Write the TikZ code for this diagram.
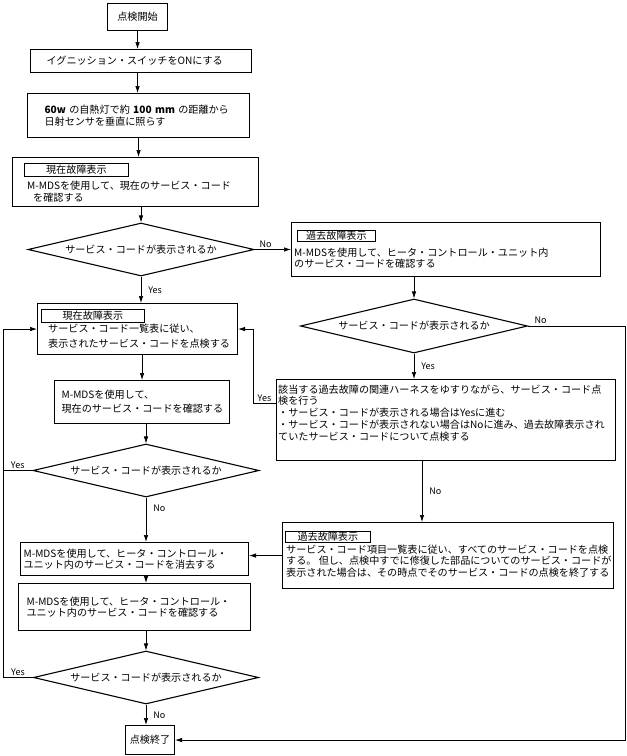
\documentclass[tikz,border=0pt]{standalone}
\usepackage{fontspec}
\setmainfont{Noto Sans CJK JP}
\usetikzlibrary{shapes.geometric,arrows.meta}
\begin{document}
\begin{tikzpicture}[x=1pt,y=-1pt,
  font=\fontsize{10.1}{11.5}\selectfont,
  box/.style={draw,line width=1.1pt,inner sep=0pt,anchor=north west},
  ttl/.style={draw,line width=0.7pt,inner sep=0pt,anchor=north west},
  txt/.style={inner sep=0pt,align=left,anchor=west},
  ask/.style={draw,diamond,aspect=4.26,line width=1.1pt,inner sep=0pt,minimum width=226,minimum height=53},
  arr/.style={line width=0.7pt,-{Latex[length=7pt,width=4.5pt]}},
  lnk/.style={line width=0.7pt},
  lbl/.style={font=\fontsize{9}{10}\selectfont,inner sep=2pt}]
\useasboundingbox (0,0) rectangle (627,756);
\coordinate (lft) at (3,0);
\coordinate (rgt) at (625,0);
\coordinate (nx) at (422,0);
%left column
\node[box,minimum width=60,minimum height=27] (start) at (107,3) {点検開始};
\node[box,minimum width=221,minimum height=23,text width=189,inner xsep=16,align=left] (ign) at (30,49) {イグニッション・スイッチをONにする};
\node[box,minimum width=222,minimum height=44,text width=188,inner xsep=17,align=left] (sun) at (27,93) {\textbf{60w}~の自熱灯で約~\textbf{100~mm}~の距離から\\日射センサを垂直に照らす};
\node[box,minimum width=246,minimum height=49] (cur) at (12,157) {};
\node[ttl,minimum width=104,minimum height=13] (cur-h) at (24,163) {現在故障表示};
\node[txt] (cur-t) at (27,191.5) {M-MDSを使用して、現在のサービス・コード\\\hspace*{6pt}を確認する};
\node[ask] (d1) at (141,249.5) {サービス・コードが表示されるか};
\node[box,minimum width=200,minimum height=51] (cause) at (37,303) {};
\node[ttl,minimum width=103,minimum height=13] (cause-h) at (41,309) {現在故障表示};
\node[txt] (cause-t) at (48,336) {サービス・コード一覧表に従い、\\[3.5pt]表示されたサービス・コードを点検する};
\node[box,minimum width=175,minimum height=43,text width=161,inner xsep=7,align=left] (mmds) at (54,380) {M-MDSを使用して、\\[2.5pt]現在のサービス・コードを確認する};
\node[ask] (d3) at (146,470.5) {サービス・コードが表示されるか};
\node[box,minimum width=228,minimum height=33,text width=222,inner xsep=3,align=left] (erase) at (20,542) {M-MDSを使用して、ヒータ・コントロール・\\ユニット内のサービス・コードを消去する};
\node[box,minimum width=232,minimum height=47,text width=216,inner xsep=8,align=left] (confirm) at (18,583) {M-MDSを使用して、ヒータ・コントロール・\\ユニット内のサービス・コードを確認する};
\node[ask,minimum width=225] (d4) at (146,677.5) {サービス・コードが表示されるか};
\node[box,minimum width=49,minimum height=29] (end) at (125,725) {点検終了};
%right column
\node[box,minimum width=309,minimum height=54] (past) at (291,222) {};
\node[ttl,minimum width=78,minimum height=11] (past-h) at (297,230) {過去故障表示};
\node[txt] (past-t) at (294,258) {M-MDSを使用して、ヒータ・コントロール・ユニット内\\のサービス・コードを確認する};
\node[ask,minimum width=227,minimum height=54] (d2) at (414,326) {サービス・コードが表示されるか};
\node[box,minimum width=339,minimum height=81] (shake) at (276,379) {};
\node[txt] (shake-t) at (278,413) {該当する過去故障の関連ハーネスをゆすりながら、サービス・コード点\\検を行う\\・サービス・コードが表示される場合はYesに進む\\[1pt]・サービス・コードが表示されない場合はNoに進み、過去故障表示され\\ていたサービス・コードについて点検する};
\node[box,minimum width=331,minimum height=66] (allpast) at (282,522) {};
\node[ttl,minimum width=85,minimum height=11] (allpast-h) at (285,531) {過去故障表示};
\node[txt] (allpast-t) at (286,561) {サービス・コード項目一覧表に従い、すべてのサービス・コードを点検\\する。 但し、点検中すでに修復した部品についてのサービス・コードが\\表示された場合は、その時点でそのサービス・コードの点検を終了する};
%arrows
\draw[arr] (start) -- (start |- ign.north);
\draw[arr] (ign.south -| start) -- (sun.north -| start);
\draw[arr] (sun) -- (sun |- cur.north);
\draw[arr] (d1 |- cur.south) -- (d1);
\draw[arr] (d1) -- (d1 |- cause.north) node[lbl,midway,right=5pt]{Yes};
\draw[arr] (d1) -- (d1 -| past.west) node[lbl,pos=0.3,above]{No};
\draw[arr] (d2 |- past.south) -- (d2);
\draw[arr] (d2) -- (d2 |- shake.north) node[lbl,midway,right=5pt]{Yes};
\draw[arr] (d2) -- (d2 -| rgt) node[lbl,pos=0.13,above]{No} |- (end);
\draw[arr] ([yshift=16.5pt]shake.west) -- ++(-23,0) node[lbl,midway,above]{Yes} |- (cause);
\draw[arr] (shake.south -| nx) -- (allpast.north -| nx) node[lbl,midway,right=5pt]{No};
\draw[arr] (allpast) -- (allpast -| erase.east);
\draw[arr] (mmds |- cause.south) -- (mmds);
\draw[arr] (d3 |- mmds.south) -- (d3);
\draw[arr] (d3) -- (d3 |- erase.north) node[lbl,pos=0.25,right=5pt]{No};
\draw[arr] (erase.south -| d3) -- (confirm.north -| d3);
\draw[arr] (d4 |- confirm.south) -- (d4);
\draw[arr] (d4) -- (d4 |- end.north) node[lbl,midway,right=5pt]{No};
%loop back
\draw[lnk] (d3) -- (d3 -| lft) node[lbl,midway,above]{Yes};
\draw[arr] (d4) -- (d4 -| lft) node[lbl,midway,above]{Yes} |- (cause);
\end{tikzpicture}
\end{document}
